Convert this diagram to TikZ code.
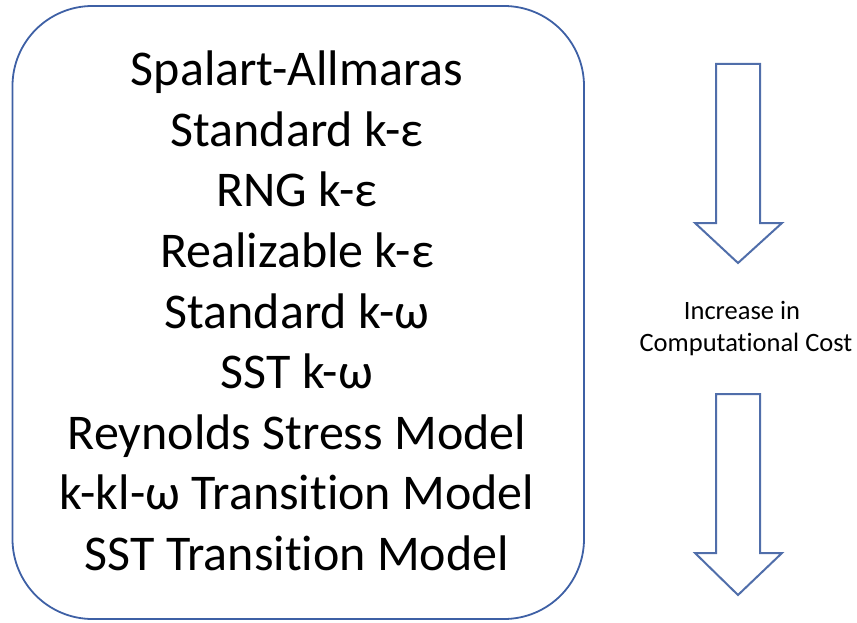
\documentclass[tikz,border=0pt]{standalone}
\usepackage{fontspec}
\setmainfont[Ligatures=NoCommon]{Carlito}
\definecolor{boxblue}{RGB}{62,96,165}
\definecolor{arrowblue}{RGB}{80,110,170}
\tikzset{
  modelbox/.style={draw=boxblue, line width=1.8pt, rounded corners=80pt},
  modelname/.style={anchor=base, inner sep=0pt, font=\fontsize{50}{60}\selectfont},
  costlabel/.style={anchor=base, inner sep=0pt, font=\fontsize{26.5}{32}\selectfont},
  hollowarrow/.style={draw=arrowblue, line width=2pt, line join=miter, fill=white}
}
\begin{document}
\begin{tikzpicture}[x=1pt,y=-1pt]
\useasboundingbox (0,0) rectangle (857,623);
% rounded frame around the list of turbulence models
\draw[modelbox] (12.5,6) rectangle (584,619);
\foreach \t [count=\i] in {Spalart-Allmaras,Standard k-ε,RNG k-ε,Realizable k-ε,Standard k-ω,SST k-ω,Reynolds Stress Model,k-kl-ω Transition Model,SST Transition Model}
  \node[modelname] (m\i) at (297,{86+60.5*(\i-1)}) {\t};
% cost label between the two arrows
\node[costlabel] (inc) at (742,319) {Increase in};
\node[costlabel] (comp) at (746,351) {Computational Cost};
% upper hollow arrow
\draw[hollowarrow] (716,64) -- (760,64) -- (760,223) -- (782,223) -- (738,263)
  -- (695,223) -- (716,223) -- cycle;
% lower hollow arrow
\draw[hollowarrow] (716,394) -- (760,394) -- (760,553) -- (782,553) -- (738,595)
  -- (695,553) -- (716,553) -- cycle;
\end{tikzpicture}
\end{document}
